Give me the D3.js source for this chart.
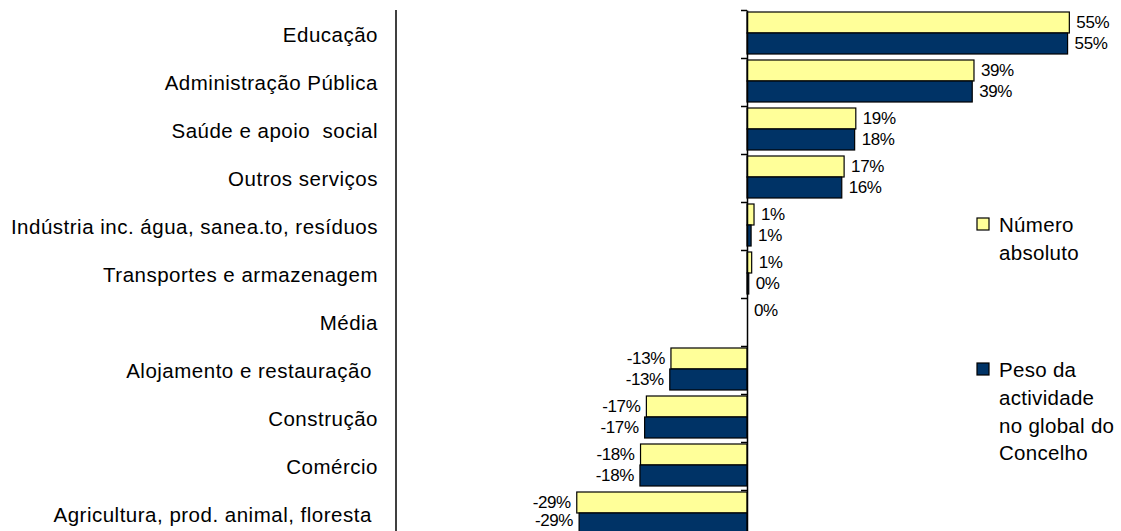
<!DOCTYPE html>
<html>
<head>
<meta charset="utf-8">
<script src="https://cdn.jsdelivr.net/npm/d3@7"></script>
<style>
  body { margin: 0; background: #fff; }
  text { font-family: "Liberation Sans", Arial, sans-serif; fill: #000; }
  .cat { font-size: 20.5px; letter-spacing: 0.5px; }
  .val { font-size: 17px; letter-spacing: -0.4px; }
  .leg { font-size: 20.5px; letter-spacing: 0.3px; }
</style>
</head>
<body>
<svg id="chart" width="1121" height="531"></svg>
<script>
// categorias (de cima para baixo)
var categories = [
  "Educação",
  "Administração Pública",
  "Saúde e apoio  social",
  "Outros serviços",
  "Indústria inc. água, sanea.to, resíduos",
  "Transportes e armazenagem",
  "Média",
  "Alojamento e restauração ",
  "Construção",
  "Comércio",
  "Agricultura, prod. animal, floresta "
];

// variação em % - Número absoluto
var numeroAbsoluto = [55.1, 38.8, 18.6, 16.6, 1.2, 0.8, 0, -13.0, -17.2, -18.2, -29.1];
// variação em % - Peso da actividade no global do Concelho
var pesoActividade = [54.8, 38.5, 18.4, 16.2, 0.7, 0.3, null, -13.2, -17.5, -18.3, -28.7];

var seriesNames = ["Número absoluto", "Peso da actividade no global do Concelho"];
var seriesColors = ["#FFFF99", "#003366"];
var legendLines = [["Número", "absoluto"], ["Peso da", "actividade", "no global do", "Concelho"]];

var W = 1121, H = 531;
var svg = d3.select("#chart");

var x = d3.scaleLinear().domain([-30, 60]).range([571.5, 1098]);
var y = d3.scaleBand().domain(categories).range([10, 538]);
var ySub = d3.scaleBand().domain(seriesNames).range([2, 44]);
var yIdx = d3.scaleLinear().domain([0, categories.length]).range([10, 538]);

var rows = categories.map(function(c, i){
  return {cat: c, values: [numeroAbsoluto[i], pesoActividade[i]]};
});

// separador à esquerda
svg.append("line")
  .attr("x1", 396).attr("x2", 396)
  .attr("y1", 10).attr("y2", H)
  .attr("stroke", "#000").attr("stroke-width", 1.5);

// nomes das categorias
svg.append("g").selectAll("text")
  .data(categories).enter().append("text")
  .attr("class", "cat")
  .attr("x", 378)
  .attr("y", function(d){ return y(d) + y.bandwidth()/2 + 1; })
  .attr("dy", "0.35em")
  .attr("text-anchor", "end")
  .style("white-space", "pre")
  .text(function(d){ return d; });

// barras
var g = svg.append("g").selectAll("g")
  .data(rows).enter().append("g")
  .attr("transform", function(d){ return "translate(0," + y(d.cat) + ")"; });

seriesNames.forEach(function(s, si){
  var sub = g.filter(function(d){ return d.values[si] !== null; });
  sub.append("rect")
    .attr("x", function(d){ return x(Math.min(0, d.values[si])); })
    .attr("y", ySub(s))
    .attr("width", function(d){ return Math.abs(x(d.values[si]) - x(0)); })
    .attr("height", ySub.bandwidth())
    .attr("fill", seriesColors[si])
    .attr("stroke", "#000")
    .attr("stroke-width", 1.2);
  sub.append("text")
    .attr("class", "val")
    .attr("x", function(d){ var v = d.values[si]; return v < 0 ? x(v) - 6 : x(v) + 7; })
    .attr("y", function(d){
      // rótulo dentro da área visível
      var cy = ySub(s) + ySub.bandwidth()/2;
      return Math.min(cy, H - 11 - y(d.cat));
    })
    .attr("dy", "0.35em")
    .attr("text-anchor", function(d){ return d.values[si] < 0 ? "end" : "start"; })
    .text(function(d){ return Math.round(d.values[si]) + "%"; });
});

// eixo das categorias
var axis = d3.axisLeft(yIdx)
  .tickValues(d3.range(categories.length + 1))
  .tickFormat("")
  .tickSize(6)
  .tickSizeOuter(0);
var ax = svg.append("g")
  .attr("transform", "translate(" + x(0) + ",0)")
  .call(axis);
ax.select(".domain").attr("stroke", "#000").attr("stroke-width", 1.5);
ax.selectAll(".tick line").attr("stroke", "#000").attr("stroke-width", 1.5);

// legenda
var legTop = [218, 363];
seriesNames.forEach(function(s, si){
  var lg = svg.append("g").attr("transform", "translate(977," + legTop[si] + ")");
  lg.append("rect")
    .attr("width", 12).attr("height", 12)
    .attr("fill", seriesColors[si])
    .attr("stroke", "#000").attr("stroke-width", 1.2);
  lg.selectAll("text").data(legendLines[si]).enter().append("text")
    .attr("class", "leg")
    .attr("x", 22)
    .attr("y", function(d, i){ return 7 + i * 27.7; })
    .attr("dy", "0.35em")
    .text(function(d){ return d; });
});
</script>
</body>
</html>
